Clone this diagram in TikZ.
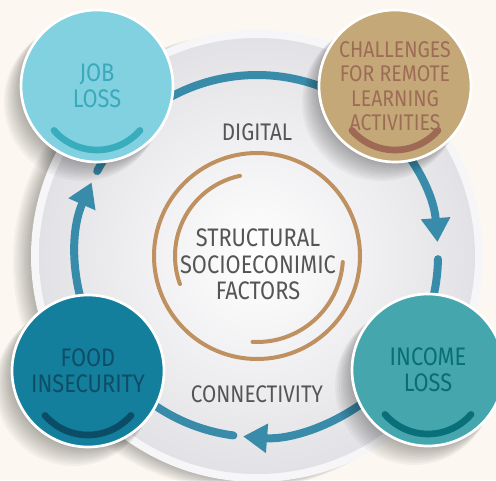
\documentclass[tikz,border=0pt]{standalone}
\usepackage{fontspec}
\setmainfont{Fira Sans}[FakeStretch=0.86]
\usetikzlibrary{arrows.meta, calc}

\definecolor{bgcream}{HTML}{FCF8F1}
\definecolor{diskrim}{HTML}{F6F6F8}
\definecolor{diskgrey}{HTML}{E2E2E6}
\definecolor{flowblue}{HTML}{388CAA}
\definecolor{ringbrown}{HTML}{BF9160}
\definecolor{textgrey}{HTML}{555555}
\definecolor{jobfill}{HTML}{82D1E1}
\definecolor{jobtext}{HTML}{3AA9BA}
\definecolor{remotefill}{HTML}{C4A878}
\definecolor{remotetext}{HTML}{9E6B57}
\definecolor{foodfill}{HTML}{147F9D}
\definecolor{foodtext}{HTML}{0D4E66}
\definecolor{incomefill}{HTML}{45A6AD}
\definecolor{incometext}{HTML}{0B6E75}

\begin{document}
\begin{tikzpicture}[
    x=0.75pt, y=0.75pt,
    issue/.style={
      circle,
      minimum size=114pt,
      inner sep=0pt,
      draw=white,
      line width=2pt,
      align=center,
      font=\fontsize{19}{19.5}\selectfont
    },
    softshadow/.style={
      fill=black,
      opacity=0.035
    },
    flow/.style={
      draw=flowblue,
      line width=6pt
    },
    arrowarc/.style={
      flow,
      -{Triangle[length=18pt, width=21pt]}
    },
    stub/.style={
      flow,
      line cap=round
    },
    brownring/.style={
      draw=ringbrown,
      line width=3pt,
      line cap=round
    },
    smile/.style={
      line width=5pt,
      line cap=round
    },
    ringtext/.style={
      text=textgrey,
      align=center,
      font=\fontsize{18}{20}\selectfont
    }
  ]

  \clip (0,0) rectangle (496,480);
  \fill[bgcream] (0,0) rectangle (496,480);

  % Disk
  \coordinate (O) at (257,224);
  \foreach \k in {1,...,10}
    \fill[softshadow] ($(O)+(-1.6*\k,-0.6*\k)$) circle[radius=222+0.6*\k];
  \fill[diskrim] (O) circle[radius=226];
  \shade[inner color=white, outer color=diskgrey] (O) circle[radius=218];

  % Points on the cycle
  \coordinate (p1) at ($(O)+(125:181)$);
  \coordinate (p2) at ($(O)+(52:181)$);
  \coordinate (p3) at ($(O)+(-1:181)$);
  \coordinate (p4) at ($(O)+(-50:181)$);
  \coordinate (p5) at ($(O)+(-97.5:181)$);
  \coordinate (p6) at ($(O)+(210:181)$);
  \coordinate (p7) at ($(O)+(152:181)$);

  % Arrows
  \draw[stub] (p1) arc[start angle=125, end angle=65, radius=181];
  \draw[arrowarc] (p2) arc[start angle=52, end angle=4.4, radius=181];
  \draw[stub] (p3) arc[start angle=-1, end angle=-25, radius=181];
  \draw[arrowarc] (p4) arc[start angle=-50, end angle=-94.4, radius=181];
  \draw[stub] (p5) arc[start angle=-97.5, end angle=-145, radius=181];
  \draw[arrowarc] (p6) arc[start angle=210, end angle=156, radius=181];
  \draw[stub] (p7) arc[start angle=152, end angle=125, radius=181];

  % Centre
  \draw[brownring] (O) circle[radius=103];
  \coordinate (b1) at ($(O)+(102:82)$);
  \coordinate (b2) at ($(O)+(-4:86)$);
  \draw[brownring] (b1) arc[start angle=102, end angle=200, radius=82];
  \draw[brownring] (b2) arc[start angle=-4, end angle=-93, radius=86];

  \node[ringtext, font=\fontsize{19}{20}\selectfont] (factors) at (258,215.5)
    {STRUCTURAL\\SOCIOECONIMIC\\FACTORS};
  \node[ringtext] (digital) at (257,348) {DIGITAL};
  \node[ringtext] (connect) at (257,85.5) {CONNECTIVITY};

  % Circle shadows
  \coordinate (cjob) at (97,394);
  \coordinate (cremote) at (395,394);
  \coordinate (cincome) at (428,110);
  \coordinate (cfood) at (88,109);
  \foreach \c in {cjob, cremote, cincome, cfood}
    \foreach \k in {1,...,10}
      \fill[softshadow] ($(\c)+(-1.4*\k,-1.6*\k)$) circle[radius=74+0.5*\k];

  % Circles
  \node[issue, fill=jobfill, text=jobtext] (job) at (cjob) {JOB\\LOSS};
  \node[issue, fill=remotefill, text=remotetext,
    font=\fontsize{17}{18.4}\selectfont] (remote) at (cremote)
    {CHALLENGES\\FOR REMOTE\\LEARNING\\ACTIVITIES};
  \node[issue, fill=incomefill, text=incometext] (income) at (cincome) {INCOME\\LOSS};
  \node[issue, fill=foodfill, text=foodtext] (food) at (cfood) {FOOD\\INSECURITY};

  % Smiles
  \foreach \n/\c in {job/3AADBD, remote/9E6A55, income/09707A, food/0B4D66} {
    \definecolor{smilecol}{HTML}{\c}
    \draw[smile, smilecol] ($(\n)+(0,-7)+(-139:57)$) arc[start angle=-139, end angle=-41, radius=57];
  }

\end{tikzpicture}
\end{document}
